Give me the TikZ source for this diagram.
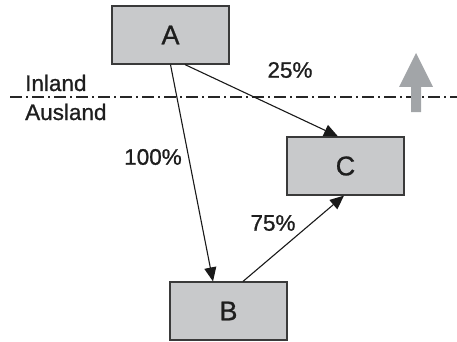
\documentclass[tikz,border=0pt]{standalone}
\usepackage{fontspec}
\setmainfont{Liberation Sans}
\newfontfamily\heavyfont[FakeBold=0.9]{Liberation Sans}
\usetikzlibrary{arrows.meta,calc}
\definecolor{boxfill}{HTML}{C8C9CB}
\definecolor{boxline}{HTML}{3A3A3A}
\definecolor{arrgray}{HTML}{A2A5A8}
\definecolor{txt}{HTML}{1E1E1E}
\begin{document}
\begin{tikzpicture}[x=1pt,y=-1pt,
  box/.style={draw=boxline,line width=1.2pt,fill=boxfill,minimum width=117pt,minimum height=58pt,inner sep=0pt,text=txt,font=\heavyfont\fontsize{27}{30}\selectfont},
  lab/.style={text=txt,font=\heavyfont\fontsize{22.5}{26}\selectfont,inner sep=0pt},
  conn/.style={line width=1.1pt,draw=black!90,-{Triangle[length=14pt,width=12pt]}},
  sep/.style={line width=1.1pt,draw=black!85,dash pattern=on 12pt off 4pt on 2pt off 4pt}]
\useasboundingbox (0,0) rectangle (457,342);
% separator line
\coordinate (L1) at (10,97);
\coordinate (L2) at (457,97);
\draw[sep] (L1) -- (L2);
% gray up arrow
\fill[arrgray] (411,112) -- (421,112) -- (421,87) -- (433,87) -- (416,53) -- (399,87) -- (411,87) -- cycle;
% boxes
\node[box] (A) at (170.5,35) {A};
\node[box] (B) at (228.5,311) {B};
\node[box] (C) at (345.5,166) {C};
% labels
\node[lab,anchor=base west] (inl) at (25,91) {Inland};
\node[lab,anchor=base west] (ausl) at (25,120) {Ausland};
\node[lab] (p25) at (290,70) {25\%};
\node[lab] (p100) at (153,157) {100\%};
\node[lab] (p75) at (273,223) {75\%};
% connectors
\draw[conn] (A.south) -- ($(B.north)+(-15.5,0)$);
\draw[conn] ($(A.south)+(14.5,0)$) -- ($(C.north)+(-7.5,0)$);
\draw[conn] ($(B.north)+(14.5,0)$) -- ($(C.south)+(-1.5,0)$);
\end{tikzpicture}
\end{document}
